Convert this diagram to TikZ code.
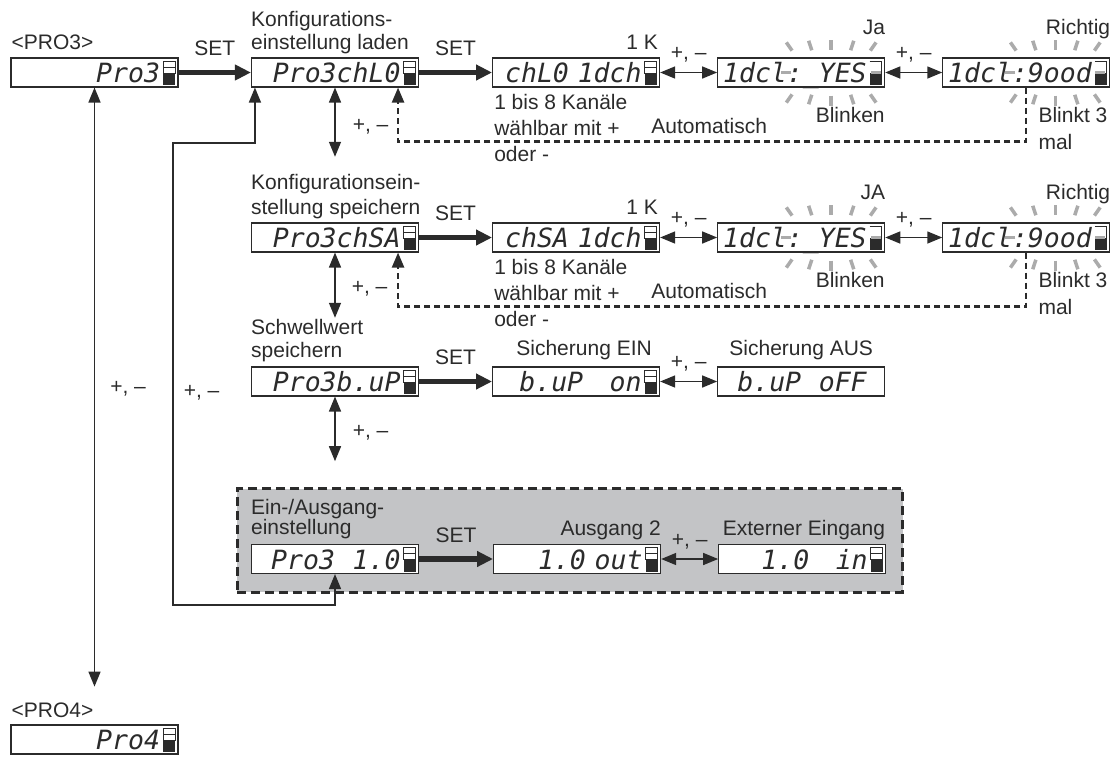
\documentclass[tikz,border=0pt]{standalone}
\usepackage{fontspec}
\setmainfont{Liberation Sans}
\newfontfamily\lcdfont{DejaVu Sans Mono}
\usetikzlibrary{arrows.meta,backgrounds,calc,fit,positioning}
\definecolor{ink}{HTML}{2B2B2B}
\definecolor{panel}{HTML}{C3C4C6}
\definecolor{spark}{HTML}{ABABAB}
\tikzset{
  lcdbase/.style={draw=ink, line width=1.1pt, fill=white, minimum width=167pt,
    minimum height=29pt, inner xsep=3pt, inner ysep=0pt, text width=161pt,
    align=right, text height=20pt, text depth=0pt, text=ink,
    font=\lcdfont\itshape\fontsize{26.5}{26.5}\selectfont,
    execute at end node={\hspace*{15pt}}},
  lcd/.style={lcdbase, path picture={
    \coordinate (ind) at (path picture bounding box.north east);
    \fill[ink] ([shift={(-15pt,-15pt)}]ind) rectangle ([shift={(-3pt,-27pt)}]ind);
    \draw[ink, line width=.7pt] ([shift={(-15pt,-3pt)}]ind) rectangle ([shift={(-3pt,-15pt)}]ind)
      ([shift={(-15pt,-9pt)}]ind) -- ([shift={(-3pt,-9pt)}]ind);}},
  lcdblink/.style={lcdbase, path picture={
    \coordinate (ind) at (path picture bounding box.north east);
    \fill[ink] ([shift={(-15pt,-15pt)}]ind) rectangle ([shift={(-3pt,-27pt)}]ind);
    \draw[ink, line width=.7pt] ([shift={(-15pt,-3pt)}]ind) -- ([shift={(-3pt,-3pt)}]ind)
      -- ([shift={(-3pt,-15pt)}]ind);}},
  lcdplain/.style={lcdbase},
  lbl/.style={font=\fontsize{21}{24}\selectfont, inner sep=0pt, text=ink},
  setarrow/.style={-{Triangle[length=16pt,width=15pt]}, line width=5.5pt, draw=ink},
  pmarrow/.style={arrows={Triangle[length=15pt,width=12pt]-Triangle[length=15pt,width=12pt]},
    line width=1.5pt, draw=ink},
  backarrow/.style={-{Triangle[length=15pt,width=12pt]}, line width=2.3pt,
    dash pattern=on 6pt off 4pt, draw=ink},
  panelbox/.style={fill=panel, draw=ink, line width=3pt, dash pattern=on 9pt off 5pt},
  ray/.style={draw=spark, line width=3.5pt},
  blinkrays/.pic={
    \foreach \dx/\dy/\ang in {-42/26/125, -21/27/108, 0/28/90, 21/27/72, 42/26/55,
        -42/-26/-125, -21/-27/-108, 0/-28/-90, 21/-27/-72, 42/-26/-55, -45/0/180, 45/0/0}
      {\draw[ray] (\dx pt,\dy pt) ++(\ang:-5pt) -- ++(\ang:10pt);}
  }
}

\begin{document}
\begin{tikzpicture}[x=1pt, y=-1pt, node distance=57pt]
  \useasboundingbox (0,0) rectangle (1112,756);

  \node[lcd] (pro3) at (94.5,72.5) {Pro3};
  \node[lcd] (chlo) at (335,72.5) {Pro3chL0};
  \node[lcd, right=73pt of chlo] (chld) {chL0~1dch};
  \node[lcdblink, right=of chld] (yes1) {1dcl:\_YES};
  \node[lcdblink, right=of yes1] (good1) {1dcl:9ood};

  \node[lcd] (chsa) at (335,237.5) {Pro3chSA};
  \node[lcd, right=73pt of chsa] (chsd) {chSA~1dch};
  \node[lcdblink, right=of chsd] (yes2) {1dcl:\_YES};
  \node[lcdblink, right=of yes2] (good2) {1dcl:9ood};

  \node[lcd] (bup) at (335,381.5) {Pro3b.uP};
  \node[lcd, right=73pt of bup] (bupon) {b.uP~~~on};
  \node[lcdplain, right=of bupon] (bupoff) {b.uP~~oFF};

  \node[lcd] (io) at (335,559) {Pro3~~1.0};
  \node[lcd, right=74pt of io] (ioout) {1.0~out};
  \node[lcd, right=of ioout] (ioin) {1.0~~~in};

  \node[lcd] (pro4) at (94.5,739.5) {Pro4};

  \node[lbl, anchor=base west] (pro3lbl) at ([shift={(1pt,8pt)}]pro3.north west) {<PRO3>};
  \node[lbl, anchor=south west, align=left, font=\fontsize{21}{23}\selectfont] (loadlbl)
    at ([yshift=3.7pt]chlo.north west) {Konfigurations-\\einstellung laden};
  \node[lbl, anchor=base east] (k1) at ([shift={(-2pt,8pt)}]chld.north east) {1 K};
  \node[lbl, anchor=north west, align=left, font=\fontsize{21}{26}\selectfont] (chan1)
    at ([shift={(2pt,-7pt)}]chld.south west) {1 bis 8 Kanäle\\wählbar mit +\\oder -};
  \node[lbl, anchor=base east] (auto1) at ([shift={(107pt,-46pt)}]chld.south east) {Automatisch};
  \node[lbl, anchor=base east] (ja1) at ([yshift=23pt]yes1.north east) {Ja};
  \node[lbl, anchor=base] (blink1) at ([shift={(49pt,-35pt)}]yes1.south) {Blinken};
  \node[lbl, anchor=base east] (ok1) at ([yshift=23pt]good1.north east) {Richtig};
  \node[lbl, anchor=north west, align=left, font=\fontsize{21}{27}\selectfont] (three1)
    at ([shift={(12pt,-20pt)}]good1.south) {Blinkt 3\\mal};

  \node[lbl, anchor=south west, align=left, font=\fontsize{21}{25}\selectfont] (savelbl)
    at ([yshift=3.7pt]chsa.north west) {Konfigurationsein-\\stellung speichern};
  \node[lbl, anchor=base east] (k2) at ([shift={(-2pt,8pt)}]chsd.north east) {1 K};
  \node[lbl, anchor=north west, align=left, font=\fontsize{21}{26}\selectfont] (chan2)
    at ([shift={(2pt,-7pt)}]chsd.south west) {1 bis 8 Kanäle\\wählbar mit +\\oder -};
  \node[lbl, anchor=base east] (auto2) at ([shift={(107pt,-46pt)}]chsd.south east) {Automatisch};
  \node[lbl, anchor=base east] (ja2) at ([yshift=23pt]yes2.north east) {JA};
  \node[lbl, anchor=base] (blink2) at ([shift={(49pt,-35pt)}]yes2.south) {Blinken};
  \node[lbl, anchor=base east] (ok2) at ([yshift=23pt]good2.north east) {Richtig};
  \node[lbl, anchor=north west, align=left, font=\fontsize{21}{27}\selectfont] (three2)
    at ([shift={(12pt,-20pt)}]good2.south) {Blinkt 3\\mal};

  \node[lbl, anchor=south west, align=left, font=\fontsize{21}{23}\selectfont] (bulbl)
    at ([yshift=4.7pt]bup.north west) {Schwellwert\\speichern};
  \node[lbl, anchor=base] (onlbl) at ([shift={(8pt,11pt)}]bupon.north) {Sicherung EIN};
  \node[lbl, anchor=base] (offlbl) at ([yshift=11pt]bupoff.north) {Sicherung AUS};

  \node[lbl, anchor=south west, align=left, font=\fontsize{21}{19}\selectfont] (iolbl)
    at ([yshift=4.7pt]io.north west) {Ein-/Ausgang-\\einstellung};
  \node[lbl, anchor=base east] (outlbl) at ([yshift=8pt]ioout.north east) {Ausgang 2};
  \node[lbl, anchor=base east] (inlbl) at ([shift={(-1pt,8pt)}]ioin.north east) {Externer Eingang};

  \node[lbl, anchor=base west] (pro4lbl) at ([shift={(1pt,7pt)}]pro4.north west) {<PRO4>};

  \begin{scope}[on background layer]
    \node[panelbox, fit=(iolbl)(io)(ioin), inner xsep=15pt, inner ysep=14pt,
      xshift=1.5pt, yshift=-4pt] (iobox) {};
  \end{scope}

  \pic at ([xshift=30pt]yes1.center) {blinkrays};
  \pic at ([xshift=29pt]good1.center) {blinkrays};
  \pic at ([xshift=30pt]yes2.center) {blinkrays};
  \pic at ([xshift=29pt]good2.center) {blinkrays};

  \draw[setarrow] (pro3) -- node[lbl, above=14pt] {SET} (chlo);
  \draw[setarrow] (chlo) -- node[lbl, above=14pt] {SET} (chld);
  \draw[pmarrow] (chld) -- node[lbl, anchor=base, yshift=13pt] {+, –} (yes1);
  \draw[pmarrow] (yes1) -- node[lbl, anchor=base, yshift=13pt] {+, –} (good1);

  \draw[setarrow] (chsa) -- node[lbl, above=14pt] {SET} (chsd);
  \draw[pmarrow] (chsd) -- node[lbl, anchor=base, yshift=13pt] {+, –} (yes2);
  \draw[pmarrow] (yes2) -- node[lbl, anchor=base, yshift=13pt] {+, –} (good2);

  \draw[setarrow] (bup) -- node[lbl, above=14pt] {SET} (bupon);
  \draw[pmarrow] (bupon) -- node[lbl, anchor=base, yshift=13pt] {+, –} (bupoff);

  \draw[setarrow] (io) -- node[lbl, above=14pt] {SET} (ioout);
  \draw[pmarrow] (ioout) -- node[lbl, anchor=base, yshift=13pt] {+, –} (ioin);

  \draw[backarrow] (good1.south) -- ++(0,54) -| ([xshift=-21pt]chlo.south east);
  \draw[backarrow] (good2.south) -- ++(0,54) -| ([xshift=-21pt]chsa.south east);

  \draw[pmarrow, shorten >=17pt] (chlo.south) -- node[lbl, pos=.45, right=17pt] {+, –} (chlo.south |- savelbl.north);
  \draw[pmarrow, shorten >=1pt] (chsa.south) -- node[lbl, pos=.55, right=16pt] {+, –} (chsa.south |- bulbl.north);
  \draw[pmarrow, shorten >=26pt] (bup.south) -- node[lbl, pos=.4, right=17pt] {+, –} (bup.south |- iobox.north);

  \draw[pmarrow, shorten >=16pt] (pro3.south) -- node[lbl, pos=.49, right=15pt] {+, –} (pro3.south |- pro4lbl.north);
  \draw[pmarrow] (io.south) -- ++(0,31) -| node[lbl, pos=.73, right=10pt] {+, –} ++(-162,-462)
    -| ([xshift=4pt]chlo.south west);
\end{tikzpicture}
\end{document}
